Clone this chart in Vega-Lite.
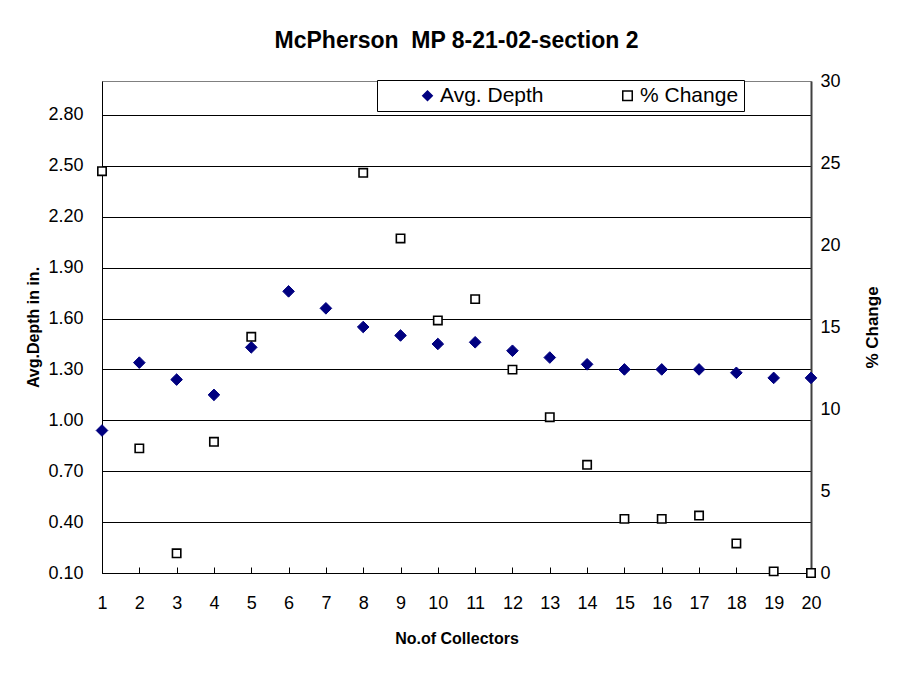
{
  "$schema": "https://vega.github.io/schema/vega-lite/v6.json",
  "width": 709,
  "height": 492,
  "autosize": {"type": "none"},
  "padding": {"left": 102, "top": 81, "right": 99, "bottom": 112},
  "background": "white",
  "title": {
    "text": "McPherson\u00a0 MP 8-21-02-section 2",
    "font": "Liberation Sans",
    "fontSize": 23,
    "fontWeight": "bold",
    "color": "black",
    "anchor": "middle",
    "offset": 19
  },
  "config": {
    "font": "Liberation Sans",
    "view": {"stroke": "#808080", "strokeWidth": 1},
    "legend": {
      "orient": "none",
      "legendX": 275,
      "legendY": -1,
      "direction": "horizontal",
      "strokeColor": "black",
      "fillColor": "white",
      "padding": 5,
      "labelFont": "Liberation Sans",
      "labelFontSize": 21,
      "labelColor": "black",
      "labelOffset": 2,
      "labelLimit": 300,
      "symbolSize": 90,
      "symbolStrokeWidth": 1.5,
      "symbolOffset": 35,
      "columnPadding": 38,
      "titleFontSize": 0
    }
  },
  "data": {
    "values": [
      {"collectors": 1, "series": "Avg. Depth", "value": 0.94},
      {"collectors": 2, "series": "Avg. Depth", "value": 1.34},
      {"collectors": 3, "series": "Avg. Depth", "value": 1.24},
      {"collectors": 4, "series": "Avg. Depth", "value": 1.15},
      {"collectors": 5, "series": "Avg. Depth", "value": 1.43},
      {"collectors": 6, "series": "Avg. Depth", "value": 1.76},
      {"collectors": 7, "series": "Avg. Depth", "value": 1.66},
      {"collectors": 8, "series": "Avg. Depth", "value": 1.55},
      {"collectors": 9, "series": "Avg. Depth", "value": 1.50},
      {"collectors": 10, "series": "Avg. Depth", "value": 1.45},
      {"collectors": 11, "series": "Avg. Depth", "value": 1.46},
      {"collectors": 12, "series": "Avg. Depth", "value": 1.41},
      {"collectors": 13, "series": "Avg. Depth", "value": 1.37},
      {"collectors": 14, "series": "Avg. Depth", "value": 1.33},
      {"collectors": 15, "series": "Avg. Depth", "value": 1.30},
      {"collectors": 16, "series": "Avg. Depth", "value": 1.30},
      {"collectors": 17, "series": "Avg. Depth", "value": 1.30},
      {"collectors": 18, "series": "Avg. Depth", "value": 1.28},
      {"collectors": 19, "series": "Avg. Depth", "value": 1.25},
      {"collectors": 20, "series": "Avg. Depth", "value": 1.25},
      {"collectors": 1, "series": "% Change", "value": 24.5},
      {"collectors": 2, "series": "% Change", "value": 7.6},
      {"collectors": 3, "series": "% Change", "value": 1.2},
      {"collectors": 4, "series": "% Change", "value": 8.0},
      {"collectors": 5, "series": "% Change", "value": 14.4},
      {"collectors": 8, "series": "% Change", "value": 24.4},
      {"collectors": 9, "series": "% Change", "value": 20.4},
      {"collectors": 10, "series": "% Change", "value": 15.4},
      {"collectors": 11, "series": "% Change", "value": 16.7},
      {"collectors": 12, "series": "% Change", "value": 12.4},
      {"collectors": 13, "series": "% Change", "value": 9.5},
      {"collectors": 14, "series": "% Change", "value": 6.6},
      {"collectors": 15, "series": "% Change", "value": 3.3},
      {"collectors": 16, "series": "% Change", "value": 3.3},
      {"collectors": 17, "series": "% Change", "value": 3.5},
      {"collectors": 18, "series": "% Change", "value": 1.8},
      {"collectors": 19, "series": "% Change", "value": 0.1},
      {"collectors": 20, "series": "% Change", "value": 0.0}
    ]
  },
  "encoding": {
    "x": {
      "field": "collectors",
      "type": "quantitative",
      "scale": {"domain": [1, 20], "nice": false, "zero": false},
      "axis": {
        "title": "No.of Collectors",
        "values": [1,2,3,4,5,6,7,8,9,10,11,12,13,14,15,16,17,18,19,20],
        "format": "d",
        "grid": false,
        "labelFlush": false,
        "labelOverlap": false,
        "domainColor": "black",
        "tickColor": "black",
        "tickSize": -6,
        "labelPadding": 27,
        "labelFontSize": 18,
        "labelColor": "black",
        "titleFontSize": 16,
        "titleFontWeight": "bold",
        "titleColor": "black",
        "titlePadding": 18
      }
    },
    "shape": {
      "field": "series",
      "type": "nominal",
      "scale": {"domain": ["Avg. Depth", "% Change"], "range": ["diamond", "square"]},
      "legend": {"title": null}
    },
    "fill": {
      "field": "series",
      "type": "nominal",
      "scale": {"domain": ["Avg. Depth", "% Change"], "range": ["#000080", "#ffffff"]},
      "legend": {"title": null}
    },
    "stroke": {
      "field": "series",
      "type": "nominal",
      "scale": {"domain": ["Avg. Depth", "% Change"], "range": ["#000080", "#000000"]},
      "legend": {"title": null}
    }
  },
  "layer": [
    {
      "transform": [{"filter": "datum.series === 'Avg. Depth'"}],
      "mark": {"type": "point", "size": 135, "opacity": 1, "fillOpacity": 1, "strokeWidth": 1},
      "encoding": {
        "y": {
          "field": "value",
          "type": "quantitative",
          "scale": {"domain": [0.1, 3.0], "nice": false, "zero": false},
          "axis": {
            "orient": "left",
            "title": "Avg.Depth in in.",
            "values": [0.1, 0.4, 0.7, 1.0, 1.3, 1.6, 1.9, 2.2, 2.5, 2.8],
            "format": ".2f",
            "grid": true,
            "gridColor": "black",
            "gridWidth": 1,
            "ticks": false,
            "domainColor": "black",
            "labelPadding": 19,
            "labelFontSize": 18,
            "labelColor": "black",
            "titleFontSize": 16,
            "titleFontWeight": "bold",
            "titleColor": "black",
            "titlePadding": 6
          }
        }
      }
    },
    {
      "transform": [{"filter": "datum.series === '% Change'"}],
      "mark": {"type": "point", "size": 70, "opacity": 1, "fillOpacity": 1, "strokeWidth": 1.6},
      "encoding": {
        "y": {
          "field": "value",
          "type": "quantitative",
          "scale": {"domain": [0, 30], "nice": false, "zero": false},
          "axis": {
            "orient": "right",
            "title": "% Change",
            "values": [0, 5, 10, 15, 20, 25, 30],
            "format": "d",
            "grid": false,
            "ticks": false,
            "domainColor": "#404040",
            "domainWidth": 2,
            "labelPadding": 9,
            "labelFontSize": 18,
            "labelColor": "black",
            "titleFontSize": 17,
            "titleFontWeight": "bold",
            "titleColor": "black",
            "titleAngle": 270,
            "titlePadding": 41
          }
        }
      }
    }
  ],
  "resolve": {"scale": {"y": "independent"}}
}
